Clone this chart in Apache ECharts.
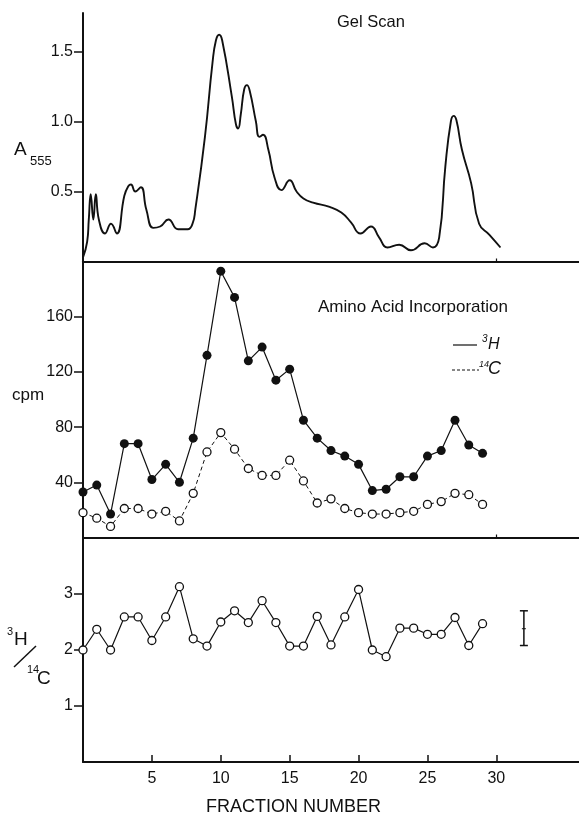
<!DOCTYPE html>
<html>
<head>
<meta charset="utf-8">
<script src="https://cdn.jsdelivr.net/npm/echarts@6/dist/echarts.min.js"></script>
<style>
  html, body { margin: 0; padding: 0; background: #fff; }
  #chart { width: 579px; height: 817px; }
</style>
</head>
<body>
<div id="chart"></div>
<script>
// gel scan trace (A555 vs fraction)
const gelX = [0, 0.3, 0.42, 0.56, 0.75, 0.93, 1.15, 1.6, 2.03, 2.45, 3.0, 3.3, 3.48, 3.8, 4.2, 4.6, 5.1, 5.6, 6.2, 6.9, 7.6, 7.95, 8.15, 8.85, 9.4, 9.65, 9.88, 10.1, 10.8, 11.1, 11.26, 11.45, 11.7, 11.9, 12.1, 12.55, 12.8, 13.07, 13.45, 13.9, 14.4, 15.0, 15.5, 16.0, 16.7, 17.9, 18.75, 19.45, 20.14, 20.9, 21.5, 22.1, 22.95, 23.8, 24.8, 25.4, 25.85, 26.3, 26.7, 26.9, 27.1, 27.5, 28.17, 28.75, 29.5, 30.3];
const gelY = [0.03, 0.14, 0.3, 0.48, 0.3, 0.48, 0.3, 0.2, 0.27, 0.2, 0.47, 0.54, 0.55, 0.5, 0.53, 0.37, 0.24, 0.25, 0.3, 0.23, 0.23, 0.27, 0.37, 0.89, 1.42, 1.58, 1.62, 1.58, 1.18, 0.98, 0.95, 1.05, 1.23, 1.26, 1.22, 1.0, 0.89, 0.905, 0.8, 0.6, 0.51, 0.58, 0.5, 0.45, 0.42, 0.39, 0.35, 0.28, 0.2, 0.25, 0.17, 0.1, 0.12, 0.08, 0.13, 0.1, 0.17, 0.68, 1.0, 1.04, 1.01, 0.8, 0.56, 0.27, 0.19, 0.1];

// amino acid incorporation
const fractions = [0, 1, 2, 3, 4, 5, 6, 7, 8, 9, 10, 11, 12, 13, 14, 15, 16, 17, 18, 19, 20, 21, 22, 23, 24, 25, 26, 27, 28, 29];
const h3Cpm = [33, 38, 17, 68, 68, 42, 53, 40, 72, 132, 193, 174, 128, 138, 114, 122, 85, 72, 63, 59, 53, 34, 35, 44, 44, 59, 63, 85, 67, 61];
const c14Cpm = [18, 14, 8, 21, 21, 17, 19, 12, 32, 62, 76, 64, 50, 45, 45, 56, 41, 25, 28, 21, 18, 17, 17, 18, 19, 24, 26, 32, 31, 24];

// 3H/14C ratio
const ratio = [2.0, 2.37, 2.0, 2.59, 2.59, 2.17, 2.59, 3.13, 2.2, 2.07, 2.5, 2.7, 2.49, 2.88, 2.49, 2.07, 2.07, 2.6, 2.09, 2.59, 3.08, 2.0, 1.88, 2.39, 2.39, 2.28, 2.28, 2.58, 2.08, 2.47];

// error bar (fraction, low, mid, high)
const errBar = [[32, 2.08, 2.38, 2.7]];

// tick values
const xTicks = [5, 10, 15, 20, 25, 30];
const gelTicks = [0.5, 1.0, 1.5];
const cpmTicks = [40, 80, 120, 160];
const ratioTicks = [1, 2, 3];

const chart = echarts.init(document.getElementById('chart'));
const FONT = 'Liberation Sans';
const BLACK = '#111';

function xAxisFor(gridIndex, showLabels) {
  return {
    gridIndex: gridIndex,
    type: 'value',
    min: 0,
    max: 36,
    axisLine: { show: true, onZero: false, lineStyle: { color: BLACK, width: 2 } },
    axisTick: showLabels
      ? { show: true, inside: true, length: 7, customValues: xTicks, lineStyle: { color: BLACK, width: 1.5 } }
      : { show: true, inside: true, length: 3, customValues: [30], lineStyle: { color: BLACK, width: 1.2 } },
    axisLabel: showLabels
      ? { show: true, customValues: xTicks, margin: 9, color: BLACK, fontSize: 16, fontFamily: FONT }
      : { show: false },
    splitLine: { show: false }
  };
}

function yAxisFor(gridIndex, max, ticks, fmt) {
  return {
    gridIndex: gridIndex,
    type: 'value',
    min: 0,
    max: max,
    axisLine: { show: true, lineStyle: { color: BLACK, width: 2 } },
    axisTick: { show: true, length: 9, customValues: ticks, lineStyle: { color: BLACK, width: 1.5 } },
    axisLabel: { show: true, customValues: ticks, margin: 10, color: BLACK, fontSize: 16, fontFamily: FONT, formatter: fmt },
    splitLine: { show: false }
  };
}

const openCircle = { color: '#fff', borderColor: BLACK, borderWidth: 1.3 };

const option = {
  backgroundColor: '#fff',
  animation: false,
  grid: [
    { left: 83, width: 496, top: 13, height: 248.5 },
    { left: 83, width: 496, top: 261.5, height: 276 },
    { left: 83, width: 496, top: 538, height: 224 }
  ],
  xAxis: [xAxisFor(0, false), xAxisFor(1, false), xAxisFor(2, true)],
  yAxis: [
    yAxisFor(0, 1.775, gelTicks, v => v.toFixed(1)),
    yAxisFor(1, 200, cpmTicks, v => String(v)),
    yAxisFor(2, 4, ratioTicks, v => String(v))
  ],
  series: [
    {
      name: 'Gel Scan',
      type: 'line',
      xAxisIndex: 0,
      yAxisIndex: 0,
      data: gelX.map((x, i) => [x, gelY[i]]),
      smooth: 0.5,
      showSymbol: false,
      lineStyle: { color: BLACK, width: 1.9 }
    },
    {
      name: '14C',
      type: 'line',
      xAxisIndex: 1,
      yAxisIndex: 1,
      data: fractions.map((x, i) => [x, c14Cpm[i]]),
      symbol: 'circle',
      symbolSize: 8,
      itemStyle: openCircle,
      lineStyle: { color: BLACK, width: 1, type: [4, 3] },
      z: 2
    },
    {
      name: '3H',
      type: 'line',
      xAxisIndex: 1,
      yAxisIndex: 1,
      data: fractions.map((x, i) => [x, h3Cpm[i]]),
      symbol: 'circle',
      symbolSize: 9,
      itemStyle: { color: BLACK },
      lineStyle: { color: BLACK, width: 1.2 },
      z: 3
    },
    {
      name: 'ratio',
      type: 'line',
      xAxisIndex: 2,
      yAxisIndex: 2,
      data: fractions.map((x, i) => [x, ratio[i]]),
      symbol: 'circle',
      symbolSize: 8,
      itemStyle: openCircle,
      lineStyle: { color: BLACK, width: 1.2 }
    },
    {
      name: 'error',
      type: 'custom',
      xAxisIndex: 2,
      yAxisIndex: 2,
      data: errBar,
      encode: { x: 0, y: [1, 3] },
      renderItem: function (params, api) {
        const x = api.value(0);
        const lo = api.coord([x, api.value(1)]);
        const mid = api.coord([x, api.value(2)]);
        const hi = api.coord([x, api.value(3)]);
        const style = { stroke: BLACK, lineWidth: 1.5 };
        return {
          type: 'group',
          children: [
            { type: 'line', shape: { x1: lo[0], y1: lo[1], x2: hi[0], y2: hi[1] }, style: style },
            { type: 'line', shape: { x1: lo[0] - 4, y1: lo[1], x2: lo[0] + 4, y2: lo[1] }, style: style },
            { type: 'line', shape: { x1: hi[0] - 4, y1: hi[1], x2: hi[0] + 4, y2: hi[1] }, style: style },
            { type: 'line', shape: { x1: mid[0] - 2, y1: mid[1], x2: mid[0] + 2, y2: mid[1] }, style: { stroke: BLACK, lineWidth: 1 } }
          ]
        };
      }
    }
  ],
  graphic: [
    // titles
    { type: 'text', left: 337, top: 14, style: { text: 'Gel Scan', font: '16.5px ' + FONT, fill: BLACK } },
    { type: 'text', left: 318, top: 299, style: { text: 'Amino Acid Incorporation', font: '17px ' + FONT, fill: BLACK } },
    // legend
    { type: 'line', shape: { x1: 453, y1: 345, x2: 477, y2: 345 }, style: { stroke: BLACK, lineWidth: 1.2 } },
    { type: 'text', left: 482, top: 334, style: { text: '3', font: 'italic 10px ' + FONT, fill: BLACK } },
    { type: 'text', left: 488, top: 337, style: { text: 'H', font: 'italic 16px ' + FONT, fill: BLACK } },
    { type: 'line', shape: { x1: 452, y1: 370, x2: 479, y2: 370 }, style: { stroke: BLACK, lineWidth: 1.1, lineDash: [3, 2] } },
    { type: 'text', left: 479, top: 360, style: { text: '14', font: 'italic 9px ' + FONT, fill: BLACK } },
    { type: 'text', left: 488, top: 360, style: { text: 'C', font: 'italic 18px ' + FONT, fill: BLACK } },
    // y axis names
    { type: 'text', left: 14, top: 140, style: { text: 'A', font: '19px ' + FONT, fill: BLACK } },
    { type: 'text', left: 30, top: 155, style: { text: '555', font: '13px ' + FONT, fill: BLACK } },
    { type: 'text', left: 12, top: 387, style: { text: 'cpm', font: '17px ' + FONT, fill: BLACK } },
    { type: 'text', left: 7, top: 626, style: { text: '3', font: '11px ' + FONT, fill: BLACK } },
    { type: 'text', left: 14, top: 630, style: { text: 'H', font: '19px ' + FONT, fill: BLACK } },
    { type: 'line', shape: { x1: 14, y1: 667, x2: 36, y2: 646 }, style: { stroke: BLACK, lineWidth: 1.5 } },
    { type: 'text', left: 27, top: 664, style: { text: '14', font: '11px ' + FONT, fill: BLACK } },
    { type: 'text', left: 37, top: 669, style: { text: 'C', font: '19px ' + FONT, fill: BLACK } },
    // x axis name
    { type: 'text', left: 206, top: 798, style: { text: 'FRACTION NUMBER', font: '18px ' + FONT, fill: BLACK } }
  ]
};

chart.setOption(option);
</script>
</body>
</html>
